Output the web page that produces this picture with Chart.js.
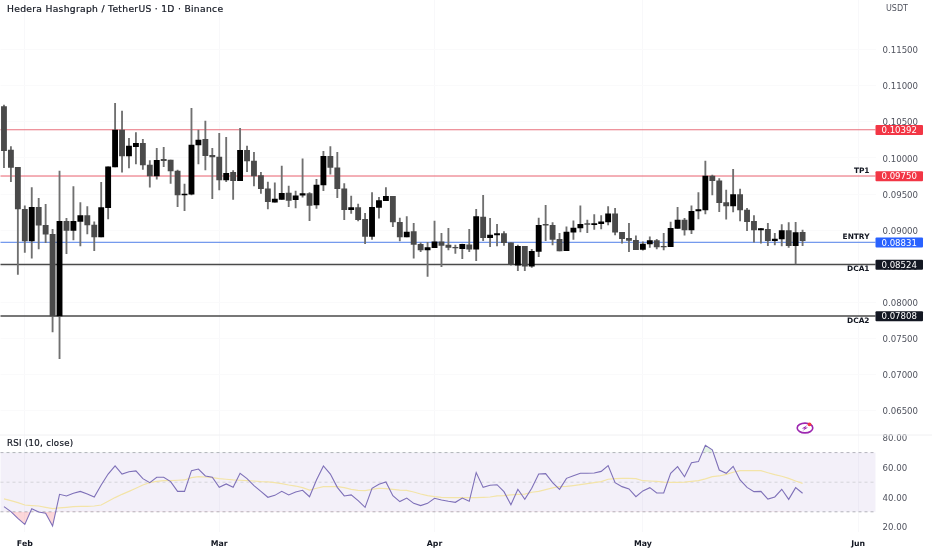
<!DOCTYPE html>
<html>
<head>
<meta charset="utf-8">
<title>HBAR / USDT</title>
<script src="https://cdn.jsdelivr.net/npm/chart.js@4/dist/chart.umd.min.js"></script>
<style>
  html, body { margin: 0; background: #fff; }
  #wrap { position: relative; width: 932px; height: 550px; overflow: hidden; font-family: "DejaVu Sans", sans-serif; }
  canvas { position: absolute; left: 0; }
  #priceChart { top: 0; }
  #rsiChart { top: 420px; }
  .txt { position: absolute; white-space: nowrap; }
  #title { left: 7px; top: 3px; font-size: 9.2px; letter-spacing: 0.3px; line-height: 11px; color: #131722; -webkit-text-stroke: 0.2px #131722; }
  #unit { left: 886px; top: 3px; font-size: 8px; line-height: 11px; color: #50535e; }
  #rsiTitle { left: 7px; top: 438px; font-size: 8.6px; letter-spacing: 0.3px; line-height: 11px; color: #131722; -webkit-text-stroke: 0.2px #131722; }
  #icon { position: absolute; left: 794px; top: 420px; }
</style>
</head>
<body>
<div id="wrap">
  <canvas id="priceChart" width="932" height="436"></canvas>
  <canvas id="rsiChart" width="932" height="130"></canvas>
  <div class="txt" id="title">Hedera Hashgraph / TetherUS · 1D · Binance</div>
  <div class="txt" id="unit">USDT</div>
  <div class="txt" id="rsiTitle">RSI (10, close)</div>
  <svg id="icon" width="22" height="16" viewBox="0 0 22 16">
    <ellipse cx="11" cy="8" rx="7.8" ry="4.9" fill="none" stroke="#9c27b0" stroke-width="1.6"/>
    <path d="M13.6 5 L7.8 8.6 L10.8 8.6 L8.4 11 L14 7.4 L11 7.4 Z" fill="#9c27b0"/>
    <circle cx="15.5" cy="4.3" r="1.9" fill="#f23645"/>
  </svg>
</div>
<script>
// Candles, one per day from Jan 29
const opens = [
  .10712,.10111,.09871,.09288,.08849,.09316,.09067,.08942,.07808,.09122,.08997,.09122,.092,.09071,.08904,.09311,.09875,.10388,.10028,.10157,
  .10204,.09903,.0975,.09982,.09972,.0982,.09487,.09497,.1018,.10259,.10037,.10014,.09695,.09802,.09685,.10107,.09958,.09755,.09574,.09386,
  .09427,.09515,.09422,.09483,.09505,.09348,.09626,.10024,.09865,.09574,.09283,.09311,.0915,.08914,.09316,.09408,.09469,.09108,.08904,.08978,
  .08803,.08724,.08756,.08839,.08793,.08761,.08742,.08797,.08734,.09182,.08895,.08932,.0895,.08825,.08512,.08775,.08498,.08706,.0908,.09067,
  .08872,.08714,.0897,.09029,.09089,.09075,.09089,.09112,.09227,.0897,.08886,.08858,.08731,.08807,.08853,.08775,.0877,.09025,.0914,.09001,
  .09265,.09279,.0975,.09685,.0938,.09334,.09491,.09279,.09122,.09001,.09011,.08853,.08877,.08992,.08784,.0897];
const highs = [
  .10735,.10157,.09871,.09338,.09588,.09441,.09358,.09011,.0982,.09164,.09602,.0938,.09325,.09116,.09663,.09879,.10759,.10652,.10273,.10351,
  .10259,.09963,.10135,.10148,.09972,.09834,.09639,.10689,.10388,.10513,.10135,.10343,.10287,.09824,.10412,.10166,.10079,.09802,.09667,.09657,
  .09889,.09612,.09542,.0999,.09519,.09705,.10093,.10157,.10079,.09644,.09473,.09362,.09233,.09519,.09455,.09588,.09469,.09168,.09186,.09094,
  .08825,.08831,.09126,.08956,.09025,.08793,.08807,.09011,.09288,.09483,.09164,.0908,.08978,.08825,.08793,.08775,.08734,.09168,.09344,.09103,
  .08956,.09047,.0913,.09338,.0914,.09214,.092,.09325,.09302,.0897,.09094,.08922,.08839,.08908,.08872,.08956,.09112,.09316,.09164,.09338,
  .09519,.09958,.09764,.09713,.09556,.09843,.0957,.09302,.092,.09025,.09094,.08956,.09075,.09103,.09108,.09001];
const lows = [
  .09865,.09671,.08387,.08692,.08609,.08738,.08825,.07587,.07216,.08673,.08863,.08779,.08946,.08714,.08904,.09154,.09875,.09802,.09861,.09917,
  .09843,.09594,.09705,.09879,.09649,.09325,.09269,.09487,.09917,.09834,.09435,.09556,.09671,.09427,.09685,.0981,.09612,.0951,.09293,.09386,
  .09427,.09325,.09306,.09455,.0913,.09302,.09546,.09774,.09449,.09144,.09233,.09126,.08811,.08872,.09164,.09408,.09047,.08849,.08904,.08609,
  .087,.08359,.08756,.08492,.08724,.08678,.08603,.087,.08576,.08853,.0877,.08779,.08789,.08512,.08437,.08437,.08484,.08631,.08853,.08793,
  .0871,.08714,.08872,.08974,.08964,.09011,.09015,.09071,.08932,.08817,.087,.08728,.0872,.08761,.08738,.08724,.0877,.09025,.08928,.0895,
  .09154,.09223,.09487,.09255,.0915,.09251,.09126,.08992,.08831,.08817,.08784,.08793,.08779,.08761,.0853,.08784];
const closes = [
  .10101,.09871,.09293,.08849,.09316,.09067,.08942,.07808,.09122,.08997,.09122,.092,.09071,.08904,.09311,.09879,.10388,.10028,.10166,.10204,
  .09903,.0975,.09968,.09963,.0982,.09487,.09501,.1018,.1025,.10032,.10014,.09695,.09788,.09685,.10107,.09958,.0975,.09574,.09394,.09431,
  .0951,.09413,.09477,.09505,.09344,.09626,.10024,.09871,.09574,.09283,.09311,.09144,.08914,.09316,.09408,.09469,.09112,.08904,.08974,.08803,
  .08724,.08756,.08839,.08789,.08761,.08752,.08803,.08734,.09186,.08895,.08932,.0895,.08825,.0852,.08775,.08498,.08706,.09067,.09067,.08872,
  .0871,.08974,.09029,.0908,.0908,.09089,.09116,.09227,.0897,.08881,.08858,.08728,.08807,.08853,.08766,.08766,.09025,.0914,.09001,.09261,
  .09283,.0975,.09685,.0938,.09334,.09491,.09279,.09116,.09001,.0902,.08853,.08877,.08992,.08784,.08964,.08853];

// RSI panel
const rsiValues = [
  33.5,30.1,25.6,21.5,32.1,29.9,29.0,20.4,41.8,40.7,42.5,43.8,42.0,40.0,48.1,55.5,61.0,55.5,57.1,57.6,
  52.4,49.7,53.3,53.3,50.4,43.8,43.8,57.8,58.9,54.2,53.3,46.5,48.8,46.5,56.0,52.4,47.7,43.8,39.8,41.1,
  43.8,41.4,43.4,44.5,40.2,51.5,61.0,55.5,46.5,40.7,41.4,37.5,33.0,45.9,48.6,50.1,40.9,36.9,39.3,35.7,
  34.2,35.7,39.1,38.0,37.1,36.4,39.3,37.1,56.5,46.5,47.9,48.3,43.6,34.8,45.2,38.4,45.9,55.5,55.8,49.7,
  45.2,52.6,54.4,56.0,56.0,56.2,57.3,61.2,49.7,47.0,45.4,40.2,44.1,46.3,42.7,42.7,56.0,60.5,53.7,63.2,
  63.9,74.9,71.8,58.2,56.0,60.7,51.5,46.5,43.6,43.8,38.6,40.0,45.2,38.4,46.3,42.5];
const rsiMaValues = [
  38.7,37.5,36.2,34.6,34.2,33.9,33.0,32.1,32.6,33.0,33.5,33.7,33.7,33.9,34.6,37.1,39.6,41.8,43.8,45.9,
  48.1,49.7,50.6,51.0,51.0,51.3,51.5,53.1,53.7,53.5,53.1,52.4,52.0,51.5,51.3,51.0,50.8,50.4,50.2,49.7,
  49.0,48.1,47.4,46.3,44.7,45.9,47.0,47.0,47.0,46.3,45.2,44.5,44.3,45.2,45.9,45.6,45.2,44.7,44.5,43.4,
  42.0,40.9,40.2,39.8,39.6,39.6,39.6,39.6,39.6,39.8,40.0,40.7,40.9,41.4,41.8,42.0,43.2,43.8,45.0,46.1,
  47.0,47.2,47.7,48.3,49.0,49.7,50.4,52.0,52.4,52.6,52.6,52.4,51.0,50.8,50.6,50.1,49.9,49.9,50.1,50.6,
  51.0,52.2,53.7,54.2,55.3,56.7,57.8,57.8,57.8,57.8,56.4,55.1,54.0,52.6,50.8,49.2];

// Horizontal levels drawn on the price panel
const levelValues = [0.10392, 0.09750, 0.08831, 0.08524, 0.07808];
const levelNames = ["", "TP1", "ENTRY", "DCA1", "DCA2"];
const levelColors = ["#f23645", "#f23645", "#2962ff", "#131722", "#131722"];
const levelLines = ["#e8707c", "#e8606e", "#4f7fe8", "#4a4a4a", "#4a4a4a"];
const levelWidths = [1.2, 1, 1, 1.5, 1.5];
const levelNameY = [0, -5, -5.5, 5, 5];

// Axes
const priceTicks = [0.115, 0.11, 0.105, 0.10, 0.095, 0.09, 0.085, 0.08, 0.075, 0.07, 0.065];
const priceMin = 0.061442, priceMax = 0.121914;
const rsiTicks = [80, 60, 40, 20];
const rsiMin = 16.35, rsiMax = 81.2;
const monthIdx = [3, 31, 62, 92, 123];
const monthNames = ["Feb", "Mar", "Apr", "May", "Jun"];

const categories = [];
for (let i = 0; i < 126; i++) {
  categories.push(new Date(Date.UTC(2025, 0, 29 + i)).toISOString().slice(0, 10));
}

const FONT = '"DejaVu Sans", sans-serif';
const GRID = "#f8f8fa";
const AXIS_W = 56.5;

function isUp(i) { return closes[i] >= opens[i]; }

function xAxis(showLabels, h) {
  return {
    type: "category",
    offset: true,
    grid: { offset: false, color: GRID, drawTicks: false },
    border: { display: false },
    ticks: {
      display: showLabels, autoSkip: false, maxRotation: 0, minRotation: 0, padding: 7,
      color: "#131722", font: { family: FONT, size: 7.8, weight: "bold" },
      callback: function (v) { return monthNames[monthIdx.indexOf(v)]; }
    },
    afterBuildTicks: function (axis) { axis.ticks = monthIdx.map((v) => ({ value: v })); },
    afterFit: function (axis) {
      axis.height = h;
      axis.paddingLeft = 0;
      axis.paddingRight = 0;
    }
  };
}

function yAxis(min, max, tickList, digits, gridColor) {
  return {
    type: "linear",
    position: "right",
    min: min,
    max: max,
    grid: { color: gridColor, drawTicks: false },
    border: { display: false },
    ticks: {
      padding: 7, color: "#50535e", font: { family: FONT, size: 8.6 },
      callback: (v) => v.toFixed(digits)
    },
    afterBuildTicks: function (axis) { axis.ticks = tickList.map((v) => ({ value: v })); },
    afterFit: function (axis) {
      axis.width = AXIS_W;
      axis.paddingTop = 0;
      axis.paddingBottom = 0;
    }
  };
}

// canvas "middle" text sits a bit high, push the y axis labels down
const tickNudgePlugin = {
  id: "tickNudgePlugin",
  afterLayout(chart) {
    chart.scales.y.getLabelItems().forEach((item) => {
      item.options.translation[1] += 1.3;
    });
  }
};

// Level lines go under the candles, price tags on top of the axis labels
const levelLinesPlugin = {
  id: "levelLinesPlugin",
  beforeDatasetsDraw(chart) {
    const { ctx, chartArea, scales } = chart;
    ctx.save();
    levelValues.forEach((v, i) => {
      const y = scales.y.getPixelForValue(v);
      ctx.strokeStyle = levelLines[i];
      ctx.lineWidth = levelWidths[i];
      ctx.beginPath();
      ctx.moveTo(chartArea.left, y);
      ctx.lineTo(chartArea.right, y);
      ctx.stroke();
    });
    ctx.restore();
  },
  afterDraw(chart) {
    const { ctx, chartArea, scales } = chart;
    ctx.save();
    levelValues.forEach((v, i) => {
      const y = scales.y.getPixelForValue(v);
      ctx.fillStyle = levelColors[i];
      ctx.beginPath();
      ctx.roundRect(chartArea.right, y - 4.7, 47.5, 10, 1);
      ctx.fill();
      ctx.fillStyle = "#fff";
      ctx.font = "8.6px " + FONT;
      ctx.textAlign = "center";
      ctx.textBaseline = "middle";
      ctx.fillText(v.toFixed(5), chartArea.right + 23.7, y + 1);
      if (levelNames[i]) {
        ctx.fillStyle = "#131722";
        ctx.font = "bold 7.4px " + FONT;
        ctx.textAlign = "right";
        ctx.fillText(levelNames[i], chartArea.right - 6, y + levelNameY[i]);
      }
    });
    ctx.restore();
  }
};

new Chart(document.getElementById("priceChart"), {
  type: "bar",
  data: {
    labels: categories,
    datasets: [
      {
        label: "body",
        data: opens.map((o, i) => [Math.min(o, closes[i]), Math.max(o, closes[i])]),
        backgroundColor: (c) => (isUp(c.dataIndex) ? "#000000" : "#4a4a4a"),
        barThickness: 5.2,
        grouped: false
      },
      {
        label: "wick",
        data: lows.map((l, i) => [l, highs[i]]),
        backgroundColor: "#707070",
        barThickness: 1.2,
        grouped: false
      }
    ]
  },
  options: {
    responsive: false,
    animation: false,
    layout: { padding: { left: 0.5 } },
    plugins: { legend: { display: false }, tooltip: { enabled: false } },
    scales: {
      x: xAxis(false, 0),
      y: yAxis(priceMin, priceMax, priceTicks, 5, "#fafafb")
    }
  },
  plugins: [tickNudgePlugin, levelLinesPlugin]
});

// Purple band and dashed 70 / 50 / 30 guides
const rsiBandPlugin = {
  id: "rsiBandPlugin",
  beforeDatasetsDraw(chart) {
    const { ctx, chartArea, scales } = chart;
    const y70 = scales.y.getPixelForValue(70);
    const y50 = scales.y.getPixelForValue(50);
    const y30 = scales.y.getPixelForValue(30);
    ctx.save();
    ctx.fillStyle = "rgba(126,87,194,0.09)";
    ctx.fillRect(chartArea.left, y70, chartArea.width, y30 - y70);
    ctx.setLineDash([3, 3]);
    ctx.lineWidth = 1;
    [[y70, "#b4b4bc"], [y50, "#d4d4da"], [y30, "#b4b4bc"]].forEach((g) => {
      ctx.strokeStyle = g[1];
      ctx.beginPath();
      ctx.moveTo(chartArea.left, g[0]);
      ctx.lineTo(chartArea.right, g[0]);
      ctx.stroke();
    });
    ctx.setLineDash([]);
    ctx.strokeStyle = "#f0f0f2";
    ctx.beginPath();
    ctx.moveTo(0, chartArea.top - 1);
    ctx.lineTo(chart.width, chartArea.top - 1);
    ctx.stroke();
    ctx.restore();
  }
};

new Chart(document.getElementById("rsiChart"), {
  type: "line",
  data: {
    labels: categories,
    datasets: [
      {
        label: "RSI",
        data: rsiValues,
        borderColor: "#7e70b8",
        borderWidth: 1.1,
        pointRadius: 0,
        tension: 0,
        fill: { target: { value: 30 }, above: "rgba(0,0,0,0)", below: "rgba(242,54,69,0.2)" }
      },
      {
        label: "RSI above 70",
        data: rsiValues,
        borderWidth: 0,
        pointRadius: 0,
        tension: 0,
        fill: { target: { value: 70 }, above: "rgba(76,175,80,0.15)", below: "rgba(0,0,0,0)" }
      },
      {
        label: "RSI MA",
        data: rsiMaValues,
        borderColor: "#f3e4a8",
        borderWidth: 1.2,
        pointRadius: 0,
        tension: 0,
        fill: false
      }
    ]
  },
  options: {
    responsive: false,
    animation: false,
    layout: { padding: { left: 0.5, top: 16 } },
    plugins: { legend: { display: false }, tooltip: { enabled: false } },
    scales: {
      x: xAxis(true, 18),
      y: yAxis(rsiMin, rsiMax, rsiTicks, 2, "rgba(0,0,0,0)")
    }
  },
  plugins: [tickNudgePlugin, rsiBandPlugin]
});
</script>
</body>
</html>
